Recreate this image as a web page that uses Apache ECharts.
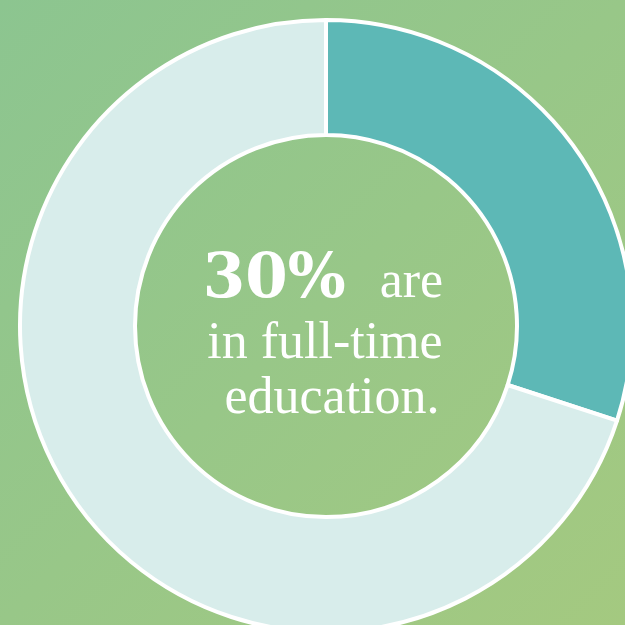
<!DOCTYPE html>
<html>
<head>
<meta charset="utf-8">
<script src="https://cdn.jsdelivr.net/npm/echarts@6/dist/echarts.min.js"></script>
<style>
  html, body { margin: 0; padding: 0; }
  #chart { width: 625px; height: 625px; }
</style>
</head>
<body>
<div id="chart"></div>
<script>
// Share of young people in full-time education
const categories = ['In full-time education', 'Other'];
const shares = [30, 70];
const sliceColors = ['#5db8b6', '#d8edeb'];
const captionLines = ['are', 'in full-time', 'education.'];

const headline = shares[0] + '%';

const lightFont = {
  fontFamily: 'Liberation Serif',
  fontSize: 52,
  fill: '#ffffff'
};

const chart = echarts.init(document.getElementById('chart'));
chart.setOption({
  backgroundColor: {
    type: 'linear', x: 0, y: 0, x2: 1, y2: 1,
    colorStops: [
      { offset: 0, color: '#8cc590' },
      { offset: 1, color: '#a4c980' }
    ]
  },
  animation: false,
  series: [{
    type: 'pie',
    center: [326, 326],
    radius: [191, 306],
    startAngle: 90,
    clockwise: true,
    silent: true,
    label: { show: false },
    labelLine: { show: false },
    itemStyle: { borderColor: '#ffffff', borderWidth: 4 },
    data: categories.map((name, i) => ({
      name: name,
      value: shares[i],
      itemStyle: { color: sliceColors[i] }
    }))
  }],
  graphic: [
    {
      type: 'text',
      x: 323, y: 312,
      style: {
        text: '{big|' + headline + '}{light|  ' + captionLines[0] + '}',
        align: 'center',
        verticalAlign: 'bottom',
        rich: {
          big: {
            fontFamily: 'DejaVu Serif',
            fontWeight: 'bold',
            fontSize: 61,
            fill: '#ffffff',
            verticalAlign: 'bottom'
          },
          light: Object.assign({ verticalAlign: 'bottom', padding: [0, 0, 3, 8] }, lightFont)
        }
      }
    },
    {
      type: 'text',
      x: 325, y: 370,
      style: Object.assign({ text: captionLines[1], align: 'center', verticalAlign: 'bottom' }, lightFont)
    },
    {
      type: 'text',
      x: 332, y: 425,
      style: Object.assign({ text: captionLines[2], align: 'center', verticalAlign: 'bottom' }, lightFont)
    }
  ]
});
</script>
</body>
</html>
